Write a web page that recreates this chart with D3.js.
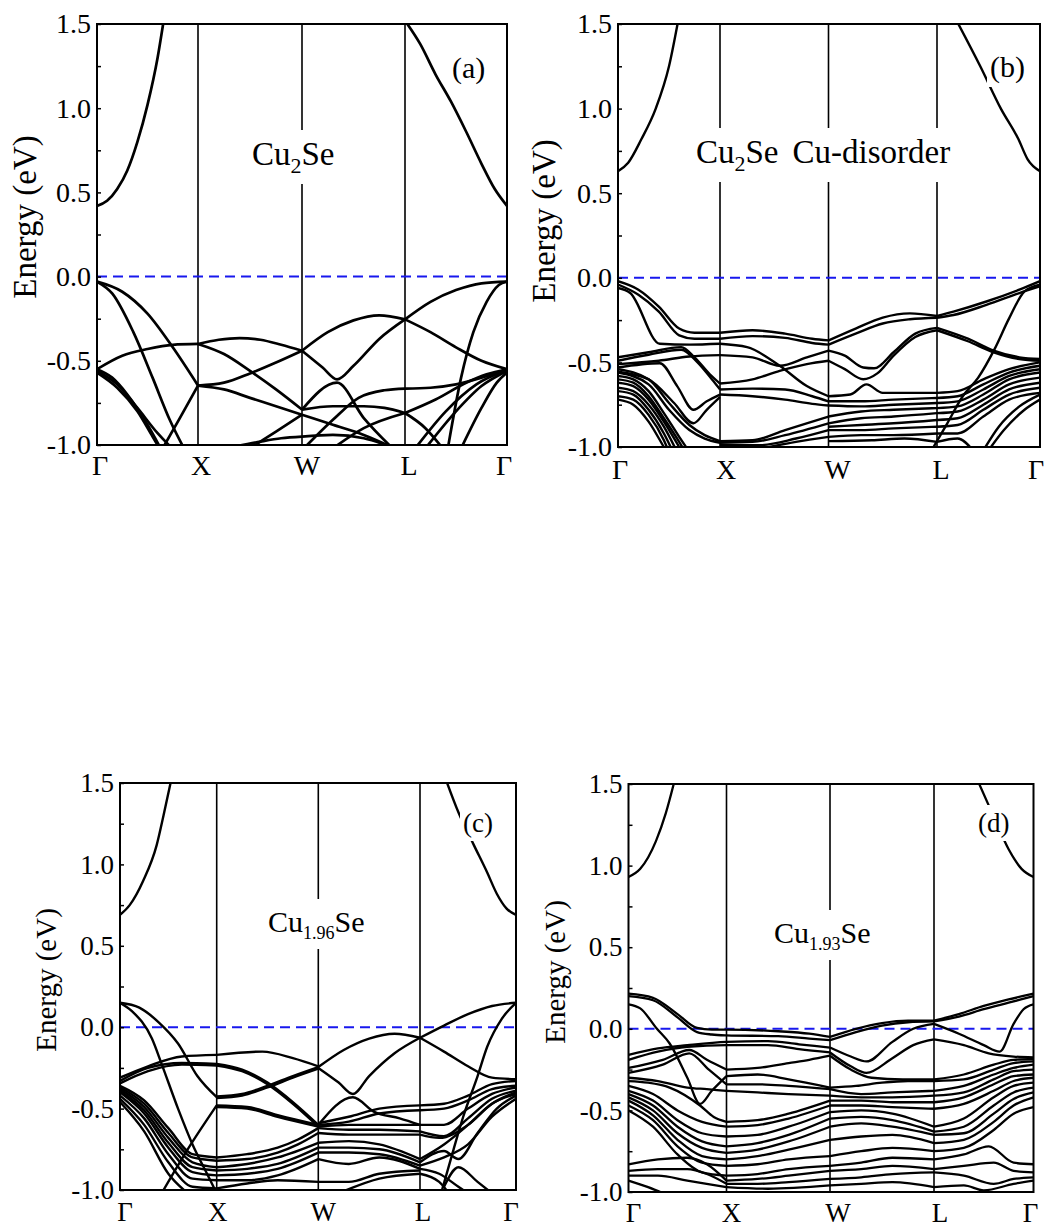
<!DOCTYPE html>
<html>
<head>
<meta charset="utf-8">
<script src="https://cdn.jsdelivr.net/npm/d3@7"></script>
<style>
  body { margin: 0; background: #fff; }
</style>
</head>
<body>
<script>
// high-symmetry path: positions along k and their labels
const kTicks = [0, 1, 2, 3, 4];
const kLabels = ['Γ', 'X', 'W', 'L', 'Γ'];
const yTicks = [-1.0, -0.5, 0.0, 0.5, 1.0, 1.5];
const yMinor = [-0.75, -0.25, 0.25, 0.75, 1.25];

// each band is a list of [k, energy in eV]
const bandsA = [
  [[0,0.42],[0.1,0.45],[0.2,0.52],[0.3,0.63],[0.4,0.8],[0.5,1.02],[0.6,1.3],[0.66,1.52]],
  [[3,1.52],[3.15,1.38],[3.3,1.2],[3.45,1.04],[3.6,0.86],[3.75,0.67],[3.88,0.52],[4,0.42]],
  [[0,-0.03],[0.25,-0.09],[0.5,-0.22],[0.75,-0.42],[1,-0.647]],
  [[0,-0.03],[0.15,-0.1],[0.36,-0.33],[0.55,-0.6],[0.72,-0.85],[0.87,-1.03]],
  [[0,-0.55],[0.25,-0.47],[0.5,-0.43],[0.75,-0.405],[1,-0.4]],
  [[0.65,-1.02],[0.82,-0.84],[1,-0.647]],
  [[0,-0.55],[0.15,-0.6],[0.3,-0.7],[0.5,-0.88],[0.63,-1.02]],
  [[0,-0.56],[0.2,-0.64],[0.4,-0.78],[0.6,-0.93],[0.76,-1.03]],
  [[0,-0.57],[0.2,-0.66],[0.4,-0.8],[0.55,-0.95],[0.62,-1.02]],
  [[1,-0.4],[1.2,-0.375],[1.4,-0.365],[1.6,-0.375],[1.8,-0.405],[2,-0.44]],
  [[1,-0.647],[1.25,-0.63],[1.5,-0.575],[1.75,-0.51],[2,-0.44]],
  [[1,-0.4],[1.25,-0.46],[1.5,-0.56],[1.75,-0.67],[2,-0.79]],
  [[1,-0.647],[1.25,-0.67],[1.5,-0.72],[1.75,-0.77],[2,-0.82]],
  [[1.35,-1.01],[1.6,-0.98],[1.8,-0.96],[2,-0.95]],
  [[1.5,-1.02],[1.75,-0.92],[2,-0.82]],
  [[2,-0.44],[2.25,-0.33],[2.5,-0.26],[2.75,-0.23],[3,-0.254]],
  [[2,-0.44],[2.2,-0.54],[2.34,-0.61],[2.5,-0.53],[2.75,-0.37],[3,-0.254]],
  [[2,-0.79],[2.34,-0.63],[2.6,-0.84],[2.88,-1.02]],
  [[2,-0.79],[2.3,-0.77],[2.6,-0.77],[2.8,-0.78],[3,-0.81]],
  [[2,-0.82],[2.3,-0.88],[2.6,-0.94],[2.9,-1.02]],
  [[2,-0.95],[2.3,-0.94],[2.6,-0.96],[2.9,-1.02]],
  [[2.05,-1.0],[2.3,-0.85],[2.55,-0.72],[2.8,-0.675],[3,-0.665]],
  [[2.3,-1.02],[2.6,-0.9],[3,-0.81]],
  [[3,-0.254],[3.25,-0.15],[3.5,-0.08],[3.75,-0.04],[4,-0.03]],
  [[3,-0.254],[3.25,-0.33],[3.5,-0.42],[3.75,-0.5],[4,-0.55]],
  [[3.42,-1.02],[3.55,-0.6],[3.67,-0.33],[3.8,-0.15],[3.92,-0.05],[4,-0.03]],
  [[3,-0.665],[3.25,-0.66],[3.5,-0.64],[3.75,-0.6],[4,-0.55]],
  [[3,-0.81],[3.3,-0.73],[3.6,-0.63],[3.8,-0.58],[4,-0.55]],
  [[3,-0.81],[3.2,-0.9],[3.37,-1.02]],
  [[3.1,-1.02],[3.4,-0.8],[3.7,-0.64],[4,-0.555]],
  [[3.2,-1.02],[3.5,-0.8],[3.75,-0.65],[4,-0.56]],
  [[3.55,-1.02],[3.75,-0.78],[3.9,-0.63],[4,-0.57]]
];

const bandsB = [
  [[0,0.63],[0.1,0.68],[0.23,0.82],[0.37,1.0],[0.5,1.25],[0.59,1.52]],
  [[3.19,1.52],[3.42,1.25],[3.62,1.0],[3.79,0.82],[3.88,0.7],[4,0.63]],
  [[0,-0.02],[0.2,-0.07],[0.4,-0.17],[0.6,-0.3],[0.75,-0.325],[1,-0.325]],
  [[0,-0.04],[0.2,-0.1],[0.4,-0.2],[0.6,-0.34],[0.75,-0.36],[1,-0.36]],
  [[0,-0.06],[0.12,-0.09],[0.41,-0.39],[0.7,-0.395],[1,-0.39]],
  [[0,-0.47],[0.3,-0.44],[0.62,-0.41],[0.75,-0.47],[0.9,-0.57],[1,-0.625]],
  [[0,-0.49],[0.3,-0.455],[0.62,-0.425],[0.78,-0.5],[0.92,-0.6],[1,-0.66]],
  [[0,-0.51],[0.4,-0.49],[0.7,-0.465],[1,-0.457]],
  [[0,-0.53],[0.41,-0.505],[0.58,-0.64],[0.74,-0.78],[0.87,-0.73],[1,-0.69]],
  [[0,-0.555],[0.3,-0.6],[0.55,-0.74],[0.74,-0.86],[0.87,-0.78],[1,-0.705]],
  [[0,-0.54],[0.3,-0.6],[0.5,-0.74],[0.7,-0.87],[0.85,-0.93],[1,-0.965]],
  [[0,-0.56],[0.3,-0.63],[0.5,-0.78],[0.7,-0.9],[0.85,-0.95],[1,-0.975]],
  [[0,-0.58],[0.15,-0.6],[0.3,-0.67],[0.45,-0.8],[0.6,-0.94],[0.7,-1.03]],
  [[0,-0.6],[0.15,-0.62],[0.3,-0.7],[0.45,-0.83],[0.6,-0.97],[0.66,-1.03]],
  [[0,-0.62],[0.15,-0.64],[0.3,-0.72],[0.45,-0.85],[0.6,-1.0],[0.63,-1.03]],
  [[0,-0.65],[0.15,-0.67],[0.3,-0.75],[0.45,-0.88],[0.58,-1.03]],
  [[0,-0.67],[0.15,-0.69],[0.3,-0.78],[0.45,-0.92],[0.54,-1.03]],
  [[0,-0.7],[0.15,-0.72],[0.3,-0.81],[0.45,-0.96],[0.5,-1.03]],
  [[0,-0.72],[0.15,-0.75],[0.3,-0.85],[0.45,-1.0],[0.48,-1.03]],
  [[1,-0.325],[1.3,-0.31],[1.6,-0.33],[1.85,-0.36],[2,-0.37]],
  [[1,-0.36],[1.3,-0.345],[1.6,-0.355],[1.85,-0.385],[2,-0.395]],
  [[1,-0.39],[1.25,-0.41],[1.55,-0.52],[1.8,-0.64],[2,-0.7]],
  [[1,-0.457],[1.3,-0.47],[1.55,-0.52],[1.8,-0.47],[2,-0.43]],
  [[1,-0.625],[1.3,-0.6],[1.55,-0.55],[1.8,-0.51],[2,-0.49]],
  [[1,-0.66],[1.3,-0.655],[1.6,-0.66],[1.85,-0.7],[2,-0.73]],
  [[1,-0.69],[1.3,-0.7],[1.6,-0.72],[1.85,-0.745],[2,-0.755]],
  [[1,-0.965],[1.3,-0.96],[1.6,-0.9],[2,-0.82]],
  [[1,-0.975],[1.3,-0.97],[1.6,-0.93],[2,-0.86]],
  [[1,-0.99],[1.35,-0.99],[1.7,-0.95],[2,-0.9]],
  [[1.3,-1.02],[1.7,-0.97],[2,-0.94]],
  [[2,-0.37],[2.25,-0.3],[2.5,-0.235],[2.75,-0.21],[3,-0.226]],
  [[2,-0.395],[2.25,-0.33],[2.5,-0.27],[2.75,-0.245],[3,-0.236]],
  [[2,-0.43],[2.15,-0.46],[2.32,-0.53],[2.42,-0.535],[2.6,-0.44],[2.8,-0.33],[3,-0.296]],
  [[2,-0.49],[2.15,-0.54],[2.32,-0.6],[2.45,-0.565],[2.6,-0.46],[2.8,-0.35],[3,-0.31]],
  [[2,-0.7],[2.2,-0.69],[2.35,-0.63],[2.5,-0.68],[3,-0.68]],
  [[2,-0.73],[2.3,-0.73],[2.6,-0.72],[3,-0.71]],
  [[2,-0.755],[2.3,-0.76],[2.6,-0.75],[3,-0.74]],
  [[2,-0.82],[2.3,-0.79],[2.6,-0.78],[3,-0.77]],
  [[2,-0.86],[2.3,-0.83],[2.6,-0.82],[3,-0.8]],
  [[2,-0.88],[2.3,-0.87],[2.6,-0.86],[3,-0.84]],
  [[2,-0.9],[2.3,-0.9],[2.6,-0.89],[3,-0.88]],
  [[2,-0.94],[2.3,-0.93],[2.6,-0.93],[3,-0.92]],
  [[2,-0.965],[2.4,-0.96],[2.7,-0.95],[3,-0.97]],
  [[3,-0.226],[3.16,-0.2],[3.48,-0.14],[3.8,-0.07],[4,-0.02]],
  [[3,-0.236],[3.16,-0.22],[3.48,-0.16],[3.8,-0.09],[4,-0.05]],
  [[3,-0.296],[3.3,-0.36],[3.55,-0.43],[3.8,-0.47],[4,-0.48]],
  [[3,-0.31],[3.3,-0.375],[3.55,-0.44],[3.8,-0.48],[4,-0.49]],
  [[2.95,-1.02],[3.1,-0.86],[3.25,-0.7],[3.4,-0.59],[3.56,-0.42],[3.7,-0.24],[3.85,-0.08],[4,-0.04]],
  [[3,-0.68],[3.2,-0.67],[3.45,-0.6],[3.7,-0.54],[4,-0.5]],
  [[3,-0.71],[3.2,-0.7],[3.45,-0.63],[3.7,-0.56],[4,-0.52]],
  [[3,-0.74],[3.2,-0.73],[3.45,-0.66],[3.7,-0.58],[4,-0.54]],
  [[3,-0.77],[3.2,-0.76],[3.45,-0.69],[3.7,-0.6],[4,-0.56]],
  [[3,-0.8],[3.2,-0.79],[3.45,-0.72],[3.7,-0.63],[4,-0.59]],
  [[3,-0.84],[3.2,-0.83],[3.45,-0.75],[3.7,-0.66],[4,-0.62]],
  [[3,-0.88],[3.2,-0.87],[3.45,-0.78],[3.7,-0.69],[4,-0.65]],
  [[3,-0.92],[3.2,-0.92],[3.45,-0.82],[3.7,-0.72],[4,-0.68]],
  [[3.45,-1.02],[3.6,-0.88],[3.8,-0.76],[4,-0.69]],
  [[3.5,-1.02],[3.65,-0.9],[3.85,-0.78],[4,-0.72]],
  [[3,-0.97],[3.2,-0.95],[3.35,-1.02]]
];

const bandsC = [
  [[0,0.69],[0.1,0.75],[0.24,0.9],[0.38,1.12],[0.45,1.3],[0.53,1.52]],
  [[3.27,1.52],[3.4,1.32],[3.56,1.12],[3.7,0.95],[3.8,0.82],[3.9,0.73],[4,0.69]],
  [[0,0.15],[0.2,0.12],[0.4,0.03],[0.6,-0.1],[0.8,-0.3],[1,-0.43]],
  [[0,0.15],[0.12,0.1],[0.33,-0.07],[0.43,-0.225],[0.6,-0.5],[0.75,-0.72],[0.9,-0.9],[1,-1.02]],
  [[0,-0.31],[0.29,-0.24],[0.64,-0.18],[1,-0.17]],
  [[0,-0.33],[0.29,-0.25],[0.64,-0.22],[1,-0.225]],
  [[0,-0.345],[0.29,-0.27],[0.64,-0.23],[1,-0.235]],
  [[0.45,-1.0],[0.7,-0.75],[1,-0.48]],
  [[0,-0.36],[0.25,-0.45],[0.5,-0.62],[0.75,-0.78],[1,-0.8]],
  [[0,-0.37],[0.25,-0.47],[0.5,-0.65],[0.75,-0.8],[1,-0.82]],
  [[0,-0.38],[0.25,-0.49],[0.5,-0.68],[0.75,-0.83],[1,-0.86]],
  [[0,-0.39],[0.25,-0.51],[0.5,-0.71],[0.75,-0.86],[1,-0.88]],
  [[0,-0.4],[0.25,-0.53],[0.5,-0.74],[0.75,-0.89],[1,-0.91]],
  [[0,-0.42],[0.25,-0.56],[0.5,-0.78],[0.75,-0.93],[1,-0.94]],
  [[0,-0.44],[0.25,-0.6],[0.5,-0.83],[0.75,-0.98],[1,-0.99]],
  [[0,-0.46],[0.25,-0.64],[0.5,-0.9],[0.7,-1.02]],
  [[1,-0.17],[1.45,-0.15],[1.75,-0.19],[2,-0.24]],
  [[1,-0.225],[1.25,-0.26],[1.5,-0.34],[1.75,-0.46],[2,-0.6]],
  [[1,-0.235],[1.25,-0.27],[1.5,-0.35],[1.75,-0.47],[2,-0.61]],
  [[1,-0.425],[1.25,-0.41],[1.5,-0.36],[1.75,-0.3],[2,-0.245]],
  [[1,-0.435],[1.25,-0.42],[1.5,-0.37],[1.75,-0.31],[2,-0.255]],
  [[1,-0.48],[1.3,-0.49],[1.6,-0.54],[2,-0.6]],
  [[1,-0.49],[1.3,-0.5],[1.6,-0.55],[2,-0.61]],
  [[1,-0.8],[1.3,-0.78],[1.6,-0.74],[1.8,-0.69],[2,-0.62]],
  [[1,-0.82],[1.3,-0.81],[1.6,-0.77],[1.8,-0.72],[2,-0.65]],
  [[1,-0.86],[1.3,-0.84],[1.6,-0.8],[2,-0.71]],
  [[1,-0.88],[1.3,-0.87],[1.6,-0.84],[2,-0.74]],
  [[1,-0.91],[1.3,-0.9],[1.6,-0.87],[2,-0.77]],
  [[1,-0.94],[1.3,-0.94],[1.6,-0.91],[2,-0.81]],
  [[1,-0.99],[1.3,-0.96],[1.6,-0.94],[2,-0.95]],
  [[2,-0.245],[2.25,-0.14],[2.5,-0.07],[2.75,-0.04],[3,-0.065]],
  [[2,-0.25],[2.2,-0.34],[2.34,-0.41],[2.5,-0.3],[2.75,-0.16],[3,-0.065]],
  [[2,-0.6],[2.34,-0.43],[2.55,-0.52],[2.8,-0.56],[3,-0.6]],
  [[2,-0.59],[2.3,-0.55],[2.6,-0.5],[3,-0.48]],
  [[2,-0.6],[2.3,-0.58],[2.6,-0.53],[3,-0.51]],
  [[2,-0.61],[2.3,-0.6],[2.6,-0.6],[3,-0.6]],
  [[2,-0.62],[2.3,-0.63],[2.6,-0.63],[3,-0.64]],
  [[2,-0.65],[2.3,-0.66],[2.6,-0.66],[3,-0.66]],
  [[2,-0.71],[2.3,-0.7],[2.6,-0.72],[3,-0.81]],
  [[2,-0.74],[2.3,-0.74],[2.6,-0.75],[3,-0.83]],
  [[2,-0.77],[2.3,-0.77],[2.6,-0.78],[3,-0.85]],
  [[2,-0.81],[2.3,-0.84],[2.6,-0.8],[3,-0.87]],
  [[2,-0.95],[2.3,-0.95],[2.6,-0.9],[3,-0.88]],
  [[2.2,-1.02],[2.6,-0.93],[3,-0.9]],
  [[3,-0.065],[3.25,0.01],[3.5,0.08],[3.75,0.13],[4,0.15]],
  [[3,-0.065],[3.25,-0.15],[3.5,-0.24],[3.75,-0.31],[4,-0.32]],
  [[3.22,-1.02],[3.35,-0.75],[3.45,-0.55],[3.6,-0.3],[3.7,-0.12],[3.85,0.05],[4,0.15]],
  [[3,-0.48],[3.25,-0.47],[3.5,-0.42],[3.75,-0.35],[4,-0.33]],
  [[3,-0.51],[3.25,-0.5],[3.5,-0.45],[3.75,-0.38],[4,-0.36]],
  [[3,-0.6],[3.25,-0.6],[3.5,-0.5],[3.75,-0.41],[4,-0.37]],
  [[3,-0.64],[3.25,-0.67],[3.5,-0.56],[3.75,-0.44],[4,-0.39]],
  [[3,-0.66],[3.2,-0.68],[3.5,-0.6],[3.75,-0.47],[4,-0.4]],
  [[3,-0.81],[3.25,-0.72],[3.5,-0.6],[3.75,-0.47],[4,-0.41]],
  [[3,-0.83],[3.25,-0.76],[3.4,-0.81],[3.6,-0.65],[3.8,-0.5],[4,-0.42]],
  [[3,-0.85],[3.25,-0.8],[3.5,-0.72],[3.75,-0.55],[4,-0.44]],
  [[3,-0.87],[3.2,-0.9],[3.4,-0.98],[3.5,-1.02]],
  [[3,-0.9],[3.2,-0.95],[3.3,-1.02]],
  [[3.25,-0.98],[3.4,-0.86],[3.6,-0.95],[3.75,-1.02]]
];

const bandsD = [
  [[0,0.93],[0.12,0.98],[0.28,1.15],[0.38,1.32],[0.47,1.52]],
  [[3.44,1.52],[3.6,1.3],[3.75,1.1],[3.88,0.98],[4,0.93]],
  [[0,0.215],[0.25,0.19],[0.5,0.09],[0.7,0.005],[0.85,-0.005],[1,-0.005],[1.5,-0.015],[1.8,-0.03],[2,-0.05]],
  [[0,0.2],[0.25,0.175],[0.5,0.07],[0.7,-0.02],[0.85,-0.035],[1,-0.04],[1.5,-0.045],[1.8,-0.06],[2,-0.07]],
  [[0,0.15],[0.12,0.125],[0.29,0.0],[0.42,-0.09],[0.6,-0.3],[0.73,-0.46],[0.85,-0.38],[1,-0.29]],
  [[0,-0.16],[0.3,-0.12],[0.6,-0.1],[1,-0.08],[1.4,-0.075],[1.7,-0.095],[2,-0.115]],
  [[0,-0.19],[0.3,-0.14],[0.6,-0.11],[1,-0.1],[1.4,-0.1],[1.7,-0.125],[2,-0.145]],
  [[0,-0.24],[0.35,-0.19],[0.62,-0.13],[0.8,-0.19],[1,-0.25]],
  [[0,-0.27],[0.35,-0.22],[0.62,-0.15],[0.82,-0.25],[1,-0.34]],
  [[0,-0.3],[0.3,-0.32],[0.6,-0.36],[0.8,-0.37],[1,-0.38]],
  [[0,-0.32],[0.2,-0.33],[0.42,-0.36],[0.73,-0.47],[0.87,-0.54],[1,-0.57]],
  [[0,-0.35],[0.25,-0.4],[0.5,-0.5],[0.75,-0.57],[1,-0.6]],
  [[0,-0.38],[0.25,-0.44],[0.5,-0.56],[0.75,-0.64],[1,-0.66]],
  [[0,-0.4],[0.25,-0.47],[0.5,-0.6],[0.75,-0.69],[1,-0.72]],
  [[0,-0.42],[0.25,-0.5],[0.5,-0.64],[0.75,-0.73],[1,-0.76]],
  [[0,-0.44],[0.25,-0.53],[0.5,-0.68],[0.75,-0.78],[1,-0.8]],
  [[0,-0.47],[0.25,-0.56],[0.5,-0.72],[0.75,-0.82],[1,-0.84]],
  [[0,-0.5],[0.25,-0.6],[0.5,-0.77],[0.75,-0.88],[1,-0.9]],
  [[0,-0.83],[0.3,-0.8],[0.6,-0.79],[0.8,-0.83],[1,-0.93]],
  [[0,-0.87],[0.3,-0.86],[0.6,-0.86],[0.8,-0.89],[1,-0.95]],
  [[0,-0.9],[0.3,-0.9],[0.6,-0.93],[1,-0.97]],
  [[0,-0.93],[0.2,-0.97],[0.4,-1.02]],
  [[1,-0.25],[1.3,-0.24],[1.6,-0.21],[1.8,-0.19],[2,-0.165]],
  [[1,-0.29],[1.3,-0.28],[1.6,-0.31],[2,-0.36]],
  [[1,-0.34],[1.3,-0.34],[1.6,-0.35],[2,-0.37]],
  [[1,-0.38],[1.3,-0.39],[1.6,-0.4],[2,-0.41]],
  [[1,-0.57],[1.3,-0.56],[1.6,-0.52],[2,-0.44]],
  [[1,-0.6],[1.3,-0.59],[1.6,-0.55],[2,-0.47]],
  [[1,-0.66],[1.3,-0.65],[1.6,-0.6],[2,-0.51]],
  [[1,-0.72],[1.3,-0.7],[1.6,-0.65],[2,-0.55]],
  [[1,-0.76],[1.3,-0.74],[1.6,-0.69],[2,-0.6]],
  [[1,-0.8],[1.3,-0.78],[1.6,-0.74],[2,-0.68]],
  [[1,-0.84],[1.3,-0.83],[1.6,-0.8],[2,-0.78]],
  [[1,-0.9],[1.3,-0.89],[1.6,-0.86],[2,-0.84]],
  [[1,-0.93],[1.3,-0.92],[1.6,-0.9],[2,-0.87]],
  [[1,-0.95],[1.3,-0.95],[1.6,-0.94],[2,-0.92]],
  [[1,-0.97],[1.4,-0.98],[2,-0.96]],
  [[2,-0.05],[2.25,0.0],[2.5,0.035],[2.75,0.05],[3,0.05]],
  [[2,-0.07],[2.25,-0.02],[2.5,0.02],[2.75,0.04],[3,0.045]],
  [[2,-0.115],[2.2,-0.17],[2.35,-0.2],[2.6,-0.08],[2.8,0.0],[3,0.03]],
  [[2,-0.145],[2.2,-0.23],[2.35,-0.27],[2.6,-0.18],[2.8,-0.1],[3,-0.065]],
  [[2,-0.165],[2.2,-0.25],[2.4,-0.3],[2.7,-0.31],[3,-0.31]],
  [[2,-0.36],[2.25,-0.35],[2.5,-0.33],[2.75,-0.32],[3,-0.32]],
  [[2,-0.37],[2.3,-0.4],[2.6,-0.39],[3,-0.38]],
  [[2,-0.41],[2.3,-0.42],[2.6,-0.42],[3,-0.41]],
  [[2,-0.44],[2.3,-0.44],[2.6,-0.45],[3,-0.45]],
  [[2,-0.47],[2.3,-0.47],[2.6,-0.48],[3,-0.49]],
  [[2,-0.51],[2.3,-0.5],[2.6,-0.52],[3,-0.6]],
  [[2,-0.55],[2.3,-0.54],[2.6,-0.56],[3,-0.63]],
  [[2,-0.6],[2.3,-0.58],[2.6,-0.6],[3,-0.65]],
  [[2,-0.68],[2.3,-0.66],[2.6,-0.65],[3,-0.7]],
  [[2,-0.78],[2.3,-0.75],[2.6,-0.73],[3,-0.75]],
  [[2,-0.84],[2.3,-0.82],[2.6,-0.79],[3,-0.8]],
  [[2,-0.87],[2.3,-0.86],[2.6,-0.84],[3,-0.86]],
  [[2,-0.92],[2.3,-0.91],[2.6,-0.89],[3,-0.88]],
  [[2,-0.96],[2.3,-0.95],[2.6,-0.94],[3,-0.97]],
  [[3,0.05],[3.25,0.09],[3.5,0.14],[3.75,0.18],[4,0.215]],
  [[3,0.045],[3.25,0.075],[3.5,0.12],[3.75,0.16],[4,0.2]],
  [[3,0.03],[3.25,-0.03],[3.5,-0.1],[3.66,-0.14],[3.8,0.03],[3.9,0.12],[4,0.15]],
  [[3,-0.065],[3.3,-0.1],[3.55,-0.15],[3.8,-0.17],[4,-0.175]],
  [[3,-0.31],[3.3,-0.28],[3.6,-0.22],[3.8,-0.19],[4,-0.185]],
  [[3,-0.32],[3.3,-0.31],[3.6,-0.25],[3.8,-0.21],[4,-0.2]],
  [[3,-0.38],[3.3,-0.35],[3.6,-0.28],[3.8,-0.24],[4,-0.22]],
  [[3,-0.41],[3.3,-0.39],[3.6,-0.31],[3.8,-0.26],[4,-0.25]],
  [[3,-0.45],[3.3,-0.42],[3.6,-0.34],[3.8,-0.29],[4,-0.28]],
  [[3,-0.49],[3.3,-0.46],[3.6,-0.38],[3.8,-0.32],[4,-0.3]],
  [[3,-0.6],[3.3,-0.55],[3.6,-0.42],[3.8,-0.35],[4,-0.33]],
  [[3,-0.63],[3.3,-0.6],[3.6,-0.47],[3.8,-0.39],[4,-0.36]],
  [[3,-0.65],[3.3,-0.64],[3.6,-0.52],[3.8,-0.43],[4,-0.39]],
  [[3,-0.7],[3.3,-0.68],[3.6,-0.57],[3.8,-0.47],[4,-0.42]],
  [[3,-0.75],[3.3,-0.73],[3.6,-0.62],[3.8,-0.52],[4,-0.48]],
  [[3,-0.8],[3.3,-0.77],[3.55,-0.72],[3.8,-0.82],[4,-0.83]],
  [[3,-0.86],[3.3,-0.84],[3.6,-0.82],[3.8,-0.87],[4,-0.88]],
  [[3,-0.88],[3.3,-0.9],[3.6,-0.95],[3.8,-0.92],[4,-0.91]],
  [[3,-0.97],[3.3,-0.96],[3.5,-0.99],[3.8,-0.95],[4,-0.93]]
];

const FONT = '"Liberation Serif", "Times New Roman", Times, serif';

// layout of the four panels (pixels)
const panels = [
  { id: 'a', bands: bandsA, sub: '2', extra: '', letter: '(a)',
    left: 97, right: 507, top: 24, bottom: 445, kx: [97, 198, 302, 405, 507], kdx: [3, 3, 5, 4, -3],
    lw: 2.7, tick: 28, labelY: 475, yl: 33, ylX: 36, ylY: 217,
    tx: 252, ty: 165, ts: 33, ss: 22, sdy: 8, lx: 452, ly: 78, ls: 30 },
  { id: 'b', bands: bandsB, sub: '2', extra: 'Cu-disorder', letter: '(b)',
    left: 618, right: 1040, top: 24, bottom: 447, kx: [618, 720, 828.5, 937, 1040], kdx: [2, 6, 9, 4, -4],
    lw: 2.4, tick: 28, labelY: 479, yl: 33, ylX: 555, ylY: 221,
    tx: 696, ty: 163, ts: 33, ss: 22, sdy: 8, lx: 990, ly: 77, ls: 30 },
  { id: 'c', bands: bandsC, sub: '1.96', extra: '', letter: '(c)',
    left: 120, right: 516, top: 783, bottom: 1190, kx: [120, 216.7, 318.3, 420, 516], kdx: [5, 1, 5, 3, -5],
    lw: 2.4, tick: 27, labelY: 1221, yl: 29, ylX: 56, ylY: 980,
    tx: 268, ty: 932, ts: 30, ss: 18, sdy: 7, lx: 463, ly: 832, ls: 27 },
  { id: 'd', bands: bandsD, sub: '1.93', extra: '', letter: '(d)',
    left: 628.5, right: 1033.5, top: 784, bottom: 1192, kx: [628.5, 726.5, 830, 934, 1033.5], kdx: [5, 5, 8, 6, -3],
    lw: 2.3, tick: 27, labelY: 1222, yl: 29, ylX: 565, ylY: 972,
    tx: 774, ty: 943, ts: 30, ss: 18, sdy: 7, lx: 978, ly: 832, ls: 27 }
];

const svg = d3.select('body').append('svg')
  .attr('width', 1049).attr('height', 1231)
  .style('background', '#fff');

// white box behind a text so the lines under it are cut
function boxBehind(g, text, pad) {
  const b = text.node().getBBox();
  g.insert('rect', function () { return text.node(); })
    .attr('x', b.x - pad).attr('y', b.y - pad)
    .attr('width', b.width + 2 * pad).attr('height', b.height + 2 * pad)
    .attr('fill', '#fff');
}

panels.forEach((p) => {
  const x = d3.scaleLinear().domain(kTicks).range(p.kx);
  const y = d3.scaleLinear().domain([-1, 1.5]).range([p.bottom, p.top]);
  const g = svg.append('g').attr('id', `panel-${p.id}`);

  svg.append('clipPath').attr('id', `clip-${p.id}`)
    .append('rect')
    .attr('x', p.left).attr('y', p.top)
    .attr('width', p.right - p.left).attr('height', p.bottom - p.top);

  // high symmetry lines
  g.selectAll('.kline')
    .data(kTicks.slice(1, -1))
    .enter()
    .append('line')
    .attr('class', 'kline')
    .attr('x1', (d) => x(d)).attr('x2', (d) => x(d))
    .attr('y1', p.top).attr('y2', p.bottom)
    .attr('stroke', '#000').attr('stroke-width', 1.6);

  // Fermi level
  g.append('line')
    .attr('x1', p.left).attr('x2', p.right)
    .attr('y1', y(0)).attr('y2', y(0))
    .attr('stroke', '#1818ee').attr('stroke-width', 2)
    .attr('stroke-dasharray', '10,6');

  const line = d3.line()
    .x((d) => x(d[0]))
    .y((d) => y(d[1]))
    .curve(d3.curveMonotoneX);

  g.append('g')
    .attr('clip-path', `url(#clip-${p.id})`)
    .selectAll('path')
    .data(p.bands)
    .enter()
    .append('path')
    .attr('d', line)
    .attr('fill', 'none')
    .attr('stroke', '#000')
    .attr('stroke-width', p.lw)
    .attr('stroke-linejoin', 'round');

  // compound name
  const title = g.append('text')
    .attr('x', p.tx).attr('y', p.ty)
    .style('font-family', FONT).style('font-size', `${p.ts}px`);
  title.append('tspan').text('Cu');
  title.append('tspan').attr('dy', p.sdy).style('font-size', `${p.ss}px`).text(p.sub);
  title.append('tspan').attr('dy', -p.sdy).text('Se');
  if (p.extra) title.append('tspan').attr('dx', 14).text(p.extra);
  boxBehind(g, title, 6);

  // panel letter
  const letter = g.append('text')
    .attr('x', p.lx).attr('y', p.ly)
    .style('font-family', FONT).style('font-size', `${p.ls}px`)
    .text(p.letter);
  boxBehind(g, letter, 3);

  // frame
  g.append('rect')
    .attr('x', p.left).attr('y', p.top)
    .attr('width', p.right - p.left).attr('height', p.bottom - p.top)
    .attr('fill', 'none').attr('stroke', '#000').attr('stroke-width', 2);

  // y axis, ticks inside
  const yAxis = g.append('g')
    .attr('transform', `translate(${p.left},0)`)
    .call(d3.axisLeft(y).tickValues(yTicks).tickSizeInner(-4).tickSizeOuter(0)
      .tickPadding(6).tickFormat((d) => d.toFixed(1)));
  yAxis.select('.domain').remove();
  yAxis.selectAll('line').attr('stroke', '#000').attr('stroke-width', 1.5);
  yAxis.selectAll('text')
    .attr('fill', '#000')
    .style('font-family', FONT).style('font-size', `${p.tick}px`);

  const yMinorAxis = g.append('g')
    .attr('transform', `translate(${p.left},0)`)
    .call(d3.axisLeft(y).tickValues(yMinor).tickSizeInner(-4).tickSizeOuter(0).tickFormat(''));
  yMinorAxis.select('.domain').remove();
  yMinorAxis.selectAll('line').attr('stroke', '#000').attr('stroke-width', 1.5);

  // k-point labels
  g.selectAll('.klabel')
    .data(kTicks)
    .enter()
    .append('text')
    .attr('class', 'klabel')
    .attr('x', (d, i) => x(d) + p.kdx[i])
    .attr('y', p.labelY)
    .attr('text-anchor', 'middle')
    .style('font-family', FONT).style('font-size', `${p.tick}px`)
    .text((d, i) => kLabels[i]);

  // axis title
  g.append('text')
    .attr('transform', `translate(${p.ylX},${p.ylY}) rotate(-90)`)
    .attr('text-anchor', 'middle')
    .style('font-family', FONT).style('font-size', `${p.yl}px`)
    .text('Energy (eV)');
});
</script>
</body>
</html>
